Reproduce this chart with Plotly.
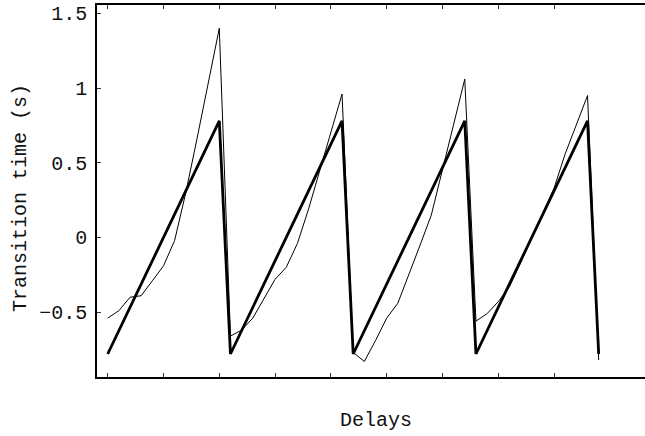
import plotly.graph_objects as go

# Sample index along the delay axis
delay_index = list(range(45))

# Measured transition times (thin trace)
measured = [
    -0.54, -0.49, -0.40, -0.39, -0.29, -0.19, -0.02, 0.30, 0.66, 1.03, 1.40,
    -0.66, -0.62, -0.54, -0.41, -0.28, -0.20, -0.04, 0.19, 0.45, 0.71, 0.96,
    -0.77, -0.83, -0.69, -0.54, -0.44, -0.25, -0.05, 0.15, 0.45, 0.75, 1.06,
    -0.56, -0.51, -0.43, -0.33, -0.17, 0.00, 0.17, 0.33, 0.56, 0.76, 0.95,
    -0.82,
]

# Ideal sawtooth (thick trace): vertices only
ideal_index = [0, 10, 11, 21, 22, 32, 33, 43, 44]
ideal = [-0.78, 0.78, -0.78, 0.78, -0.78, 0.78, -0.78, 0.78, -0.78]

y_tickvals = [-0.5, 0, 0.5, 1, 1.5]
y_ticktext = ["\u22120.5", "0", "0.5", "1", "1.5"]
x_tickvals = [0, 5, 10, 15, 20, 25, 30, 35, 40]

FONT = "Liberation Mono, Courier New, monospace"

fig = go.Figure()
fig.add_trace(go.Scatter(x=delay_index, y=measured, mode="lines",
                         line=dict(color="black", width=1.0), showlegend=False))
fig.add_trace(go.Scatter(x=ideal_index, y=ideal, mode="lines",
                         line=dict(color="black", width=2.8), showlegend=False))

W, H = 645, 436
L, R, T, B = 97, 0, 5, 59
pw, ph = W - L - R, H - T - B

fig.update_layout(
    width=W, height=H,
    margin=dict(l=L, r=R, t=T, b=B, pad=0),
    paper_bgcolor="white", plot_bgcolor="white",
    font=dict(family=FONT, size=20, color="#111111"),
    xaxis=dict(range=[-0.959, 48.15], tickvals=x_tickvals, showticklabels=False,
               ticks="inside", ticklen=4, tickwidth=1, tickcolor="#333333",
               showline=True, linecolor="black", linewidth=1.5,
               mirror="allticks", showgrid=False, zeroline=False),
    yaxis=dict(range=[-0.934, 1.556], tickvals=y_tickvals, ticktext=y_ticktext,
               ticks="inside", ticklen=4, tickwidth=1, tickcolor="#333333",
               showline=True, linecolor="black", linewidth=1.5, mirror=False,
               ticklabelstandoff=4,
               showgrid=False, zeroline=False),
    annotations=[
        dict(text="Delays", xref="paper", yref="paper",
             x=(375.8 - L) / pw, y=(H - B - 421) / ph,
             xanchor="center", yanchor="middle", showarrow=False),
        dict(text="Transition time (s)", xref="paper", yref="paper",
             x=(20 - L) / pw, y=(H - B - 198) / ph, textangle=-90,
             xanchor="center", yanchor="middle", showarrow=False),
    ],
)

fig.write_html("out.html")
